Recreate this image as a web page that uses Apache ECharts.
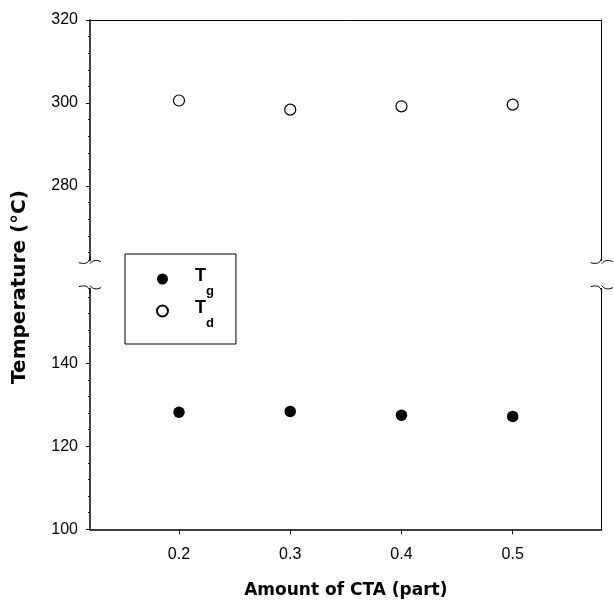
<!DOCTYPE html>
<html>
<head>
<meta charset="utf-8">
<script src="https://cdn.jsdelivr.net/npm/echarts@6/dist/echarts.min.js"></script>
<style>
html,body{margin:0;padding:0;background:#fff;}
#chart{width:614px;height:605px;}
</style>
</head>
<body>
<div id="chart"></div>
<script>
// ---- data ----
const ctaAmounts = [0.2, 0.3, 0.4, 0.5];
const tdValues = [300.6, 298.4, 299.2, 299.6];
const tgValues = [128.2, 128.4, 127.5, 127.2];
const xTickValues = [0.2, 0.3, 0.4, 0.5];
const upperTicks = [280, 300, 320];
const upperMinor = [264, 268, 272, 276, 284, 288, 292, 296, 304, 308, 312, 316];
const lowerTicks = [100, 120, 140];
const lowerMinor = [104, 108, 112, 116, 124, 128, 132, 136, 144, 148, 152, 156];
const seriesNames = ['Tg', 'Td'];
const xTitle = 'Amount of CTA (part)';
const yTitle = 'Temperature (°C)';

const chart = echarts.init(document.getElementById('chart'), null, {renderer: 'canvas'});

const LEFT = 90, RIGHT_X = 601.7, TOP = 20, H = 240.7, LOW_TOP = 288.6;
const tickFont = {color: '#000', fontSize: 16, fontFamily: 'Liberation Sans, Arial, sans-serif'};
const blackLine = w => ({show: true, lineStyle: {color: '#000', width: w}});

function xAxisBase(gridIndex) {
  return {type: 'value', gridIndex, min: 0.12, max: 0.58, splitLine: {show: false}};
}
function yMain(gridIndex, min, max, ticks) {
  return {
    type: 'value', gridIndex, min, max, position: 'left',
    axisLine: blackLine(1.5), splitLine: {show: false},
    axisTick: {show: true, inside: false, length: 4, customValues: ticks, lineStyle: {color: '#000', width: 1}},
    axisLabel: Object.assign({show: true, margin: 12, customValues: ticks}, tickFont)
  };
}
function yMinor(gridIndex, min, max, ticks) {
  return {
    type: 'value', gridIndex, min, max, position: 'left',
    axisLine: {show: false}, splitLine: {show: false},
    axisTick: {show: true, inside: false, length: 2, customValues: ticks, lineStyle: {color: '#000', width: 1}},
    axisLabel: {show: false}
  };
}
function yRight(gridIndex, min, max) {
  return {
    type: 'value', gridIndex, min, max, position: 'right',
    axisLine: blackLine(1), splitLine: {show: false},
    axisTick: {show: false}, axisLabel: {show: false}
  };
}

function curve(x1, y1, c1x, c1y, c2x, c2y, x2, y2) {
  return {
    type: 'bezierCurve', silent: true,
    shape: {x1, y1, cpx1: c1x, cpy1: c1y, cpx2: c2x, cpy2: c2y, x2, y2},
    style: {fill: null, stroke: '#000', lineWidth: 1}
  };
}
function breakMarks(x, yu, yl) {
  return [
    curve(x, yu - 5, x, yu + 2, x - 4, yu + 4, x - 11, yu + 2),
    curve(x, yu + 3, x + 3, yu - 1, x + 7, yu - 1, x + 11, yu + 1),
    curve(x, yl + 5, x, yl - 2, x - 4, yl - 4, x - 11, yl - 2),
    curve(x, yl - 3, x + 3, yl + 1, x + 7, yl + 1, x + 11, yl - 1)
  ];
}
const graphics = breakMarks(LEFT, TOP + H, LOW_TOP).concat(breakMarks(RIGHT_X, TOP + H, LOW_TOP));
graphics.push({
  type: 'text', x: 20, y: 287, rotation: Math.PI / 2,
  style: {text: yTitle, font: 'bold 20px "DejaVu Sans", sans-serif', fill: '#000', align: 'center', verticalAlign: 'middle'}
});

const option = {
  backgroundColor: '#fff',
  animation: false,
  grid: [
    {left: LEFT, width: RIGHT_X - LEFT, top: TOP, height: H},
    {left: LEFT, width: RIGHT_X - LEFT, top: LOW_TOP, height: H}
  ],
  xAxis: [
    Object.assign(xAxisBase(0), {position: 'top', axisLine: blackLine(1), axisTick: {show: false}, axisLabel: {show: false}}),
    Object.assign(xAxisBase(1), {
      position: 'bottom', axisLine: blackLine(1.5),
      axisTick: {show: true, inside: false, length: 5, customValues: xTickValues, lineStyle: {color: '#000', width: 1}},
      axisLabel: Object.assign({show: true, margin: 17, customValues: xTickValues, formatter: v => v.toFixed(1)}, tickFont),
      name: xTitle, nameLocation: 'middle', nameGap: 53,
      nameTextStyle: {color: '#000', fontSize: 17, fontWeight: 'bold', fontFamily: 'DejaVu Sans, sans-serif'}
    })
  ],
  yAxis: [
    yMain(0, 262, 320, upperTicks),
    yMinor(0, 262, 320, upperMinor),
    yRight(0, 262, 320),
    yMain(1, 100, 158, lowerTicks),
    yMinor(1, 100, 158, lowerMinor),
    yRight(1, 100, 158)
  ],
  legend: {
    orient: 'vertical', left: 125, top: 254,
    padding: [13, 22, 14, 31],
    itemGap: 1, itemWidth: 11, itemHeight: 11,
    borderColor: '#000', borderWidth: 1, backgroundColor: '#fff',
    icon: 'circle',
    data: seriesNames,
    formatter: name => `{t|T}{s|${name.slice(1)}}`,
    textStyle: {
      color: '#000',
      rich: {
        t: {fontSize: 18, fontWeight: 'bold', fontFamily: 'Liberation Sans, Arial', lineHeight: 24, verticalAlign: 'top', padding: [0, 0, 0, 22]},
        s: {fontSize: 13, fontWeight: 'bold', fontFamily: 'Liberation Sans, Arial', lineHeight: 13, verticalAlign: 'top', padding: [18, 0, 0, 0]}
      }
    }
  },
  graphic: graphics,
  series: [
    {
      name: seriesNames[0], type: 'scatter', xAxisIndex: 1, yAxisIndex: 3,
      symbol: 'circle', symbolSize: 11.5,
      itemStyle: {color: '#000', borderColor: '#000', borderWidth: 0, opacity: 1},
      data: ctaAmounts.map((x, i) => [x, tgValues[i]])
    },
    {
      name: seriesNames[1], type: 'scatter', xAxisIndex: 0, yAxisIndex: 0,
      symbol: 'circle', symbolSize: 11,
      itemStyle: {color: '#fff', borderColor: '#000', borderWidth: 1.2, opacity: 1},
      data: ctaAmounts.map((x, i) => [x, tdValues[i]])
    }
  ]
};
chart.setOption(option);
</script>
</body>
</html>
